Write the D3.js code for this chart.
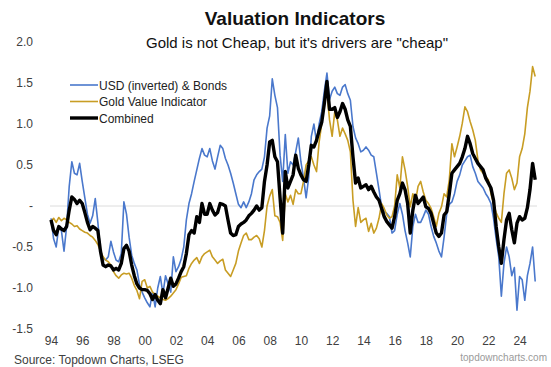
<!DOCTYPE html>
<html>
<head>
<meta charset="utf-8">
<script src="https://cdn.jsdelivr.net/npm/d3@7"></script>
<style>
  html, body { margin: 0; padding: 0; background: #fff; }
  svg { display: block; font-family: "Liberation Sans", Arial, sans-serif; }
</style>
</head>
<body>
<svg id="chart" width="551" height="367"></svg>
<script>
// Bi-monthly observations, six per year from Jan 1994 to Jan 2025
const startYear = 1994;
const perYear = 6;

const usdBonds = [
  -0.15, -0.4, -0.5, -0.25, -0.3, -0.55,
  -0.25, 0.24, 0.54, 0.4, 0.38, 0.52,
  0.3, 0.1, -0.1, -0.21, -0.12, 0.09,
  -0.2, -0.55, -0.64, -0.66, -0.62, -0.43,
  -0.56, -0.66, -0.68, -0.58, 0.05, -0.1,
  -0.38, -0.6, -0.7, -0.78, -0.96, -1.05,
  -1.12, -1.18, -1.23, -1.05, -1.23, -1.0,
  -0.86, -1.07, -0.85, -0.95, -1.05, -0.62,
  -0.8, -0.74, -0.65, -0.5, -0.17, 0.03,
  0.15, 0.3, 0.44, 0.58, 0.7, 0.62,
  0.6, 0.7, 0.55, 0.45, 0.6, 0.74,
  0.7, 0.58, 0.5, 0.4, 0.28, 0.15,
  0.02, -0.02, 0.05, -0.02, 0.05, 0.15,
  0.32, 0.38, 0.42, 0.45, 0.6, 0.95,
  1.1, 1.55, 1.35, 1.2, 0.62, 0.3,
  0.87, 0.4, 0.54, 0.5, 0.66, 0.83,
  0.54, 0.34, 0.1, 0.35, 0.85, 1.0,
  0.78, 1.0, 1.15, 1.4, 1.62, 1.3,
  1.4, 1.45, 1.37, 1.35, 1.45, 1.48,
  1.37, 1.29, 0.97, 0.83, 0.76, 0.66,
  0.68, 0.72, 0.68, 0.62, 0.6, 0.4,
  0.2, -0.01, -0.07, -0.09, -0.13, -0.33,
  -0.3, -0.1, 0.03, -0.1, -0.3, -0.45,
  -0.62, -0.25, -0.1, -0.2, -0.2, -0.13,
  -0.05, -0.1, -0.25, -0.37, -0.45, -0.55,
  -0.62, -0.38, -0.1, 0.02, 0.05, 0.15,
  0.3, 0.38, 0.5, 0.55, 0.6, 0.62,
  0.48, 0.4, 0.3, 0.26, 0.22, 0.15,
  0.1, 0.03, -0.15, -0.4, -0.62, -1.1,
  -0.7, -0.5, -0.62, -0.85, -0.75, -1.27,
  -0.86, -0.9, -1.15, -0.85, -0.7, -0.5,
  -0.92
];

const goldValue = [
  -0.19, -0.15, -0.2, -0.14, -0.18, -0.15,
  -0.17, -0.2, -0.22, -0.25, -0.24, -0.28,
  -0.3, -0.32, -0.33, -0.36, -0.38, -0.42,
  -0.47, -0.55, -0.62, -0.66, -0.68, -0.72,
  -0.8, -0.85, -0.88, -0.84, -0.82, -0.83,
  -0.82, -0.88, -0.97, -1.03, -1.13, -0.92,
  -0.9, -1.0, -0.98, -1.05, -1.08, -1.1,
  -1.12, -1.14, -1.15, -1.13, -1.1, -1.06,
  -1.02, -0.95, -0.87, -0.86, -0.85, -0.76,
  -0.7, -0.66, -0.63, -0.7, -0.62, -0.58,
  -0.56, -0.54, -0.62, -0.66, -0.7, -0.67,
  -0.65, -0.78, -0.82, -0.86, -0.78, -0.7,
  -0.55, -0.45, -0.36, -0.33, -0.41, -0.41,
  -0.38, -0.36, -0.4, -0.5, -0.3, 0.0,
  0.12, 0.2, -0.12, -0.13, -0.2, -0.42,
  0.15, 0.05, 0.13, 0.02, 0.2, 0.15,
  0.15, 0.3, 0.5, 0.55, 0.6, 0.5,
  0.42, 0.78, 1.0, 1.28, 1.38, 1.05,
  0.85, 1.15, 1.05, 0.85, 0.95, 0.88,
  0.8, 0.66, 0.07, -0.25, -0.02, -0.2,
  -0.17, -0.15, -0.31, -0.21, -0.33, -0.27,
  -0.15, 0.03, -0.03, -0.11, -0.15, -0.13,
  0.0, 0.38, 0.22, 0.6, 0.44, 0.24,
  -0.01, 0.15, 0.05, 0.24, 0.3, 0.17,
  0.07, 0.03, -0.03, -0.13, -0.25, -0.09,
  -0.01, 0.15, 0.11, 0.32, 0.76, 0.6,
  0.72, 0.85, 1.01, 1.21, 1.15, 1.03,
  0.93, 0.8, 0.56, 0.44, 0.4, 0.36,
  0.32, 0.15, 0.03, -0.08, -0.15, -0.2,
  0.15, 0.4, 0.44, 0.34, 0.2, 0.28,
  0.6, 0.7, 0.88, 1.2, 1.4, 1.7,
  1.58
];

const combined = [
  -0.17, -0.3, -0.35, -0.25, -0.28, -0.3,
  -0.25, -0.05, 0.11, 0.08, 0.03, 0.07,
  0.03, -0.08, -0.2, -0.29, -0.25, -0.27,
  -0.3, -0.55, -0.72, -0.74, -0.72, -0.73,
  -0.78, -0.76, -0.78, -0.7, -0.52, -0.48,
  -0.55, -0.72, -0.85, -0.95, -1.0, -1.02,
  -1.02, -1.03, -1.07, -1.14, -1.08, -1.15,
  -1.19, -1.02, -1.12, -1.0, -0.88, -0.98,
  -0.95, -0.88, -0.8, -0.74, -0.58, -0.35,
  -0.3, -0.33, -0.13, -0.2, 0.03, -0.1,
  -0.1, 0.03, -0.05, -0.11, -0.08, 0.03,
  0.02, 0.0, -0.17, -0.33, -0.36, -0.35,
  -0.25, -0.22, -0.2, -0.17, -0.12, -0.09,
  -0.05, 0.0, -0.05, -0.02, 0.3, 0.5,
  0.78, 0.8, 0.6, 0.54, 0.1, -0.33,
  0.42, 0.22, 0.3, 0.38, 0.62, 0.46,
  0.38, 0.32, 0.3, 0.5, 0.74, 0.72,
  0.8, 0.92, 1.02, 1.25, 1.52, 1.18,
  1.18, 1.2, 1.08, 1.15, 1.25, 1.18,
  1.05, 0.97, 0.6, 0.28, 0.34, 0.22,
  0.24, 0.26, 0.2, 0.24, 0.17, 0.11,
  0.07, -0.03, -0.13, -0.19, -0.23, -0.27,
  -0.13, 0.07, 0.15, 0.28, 0.2, 0.03,
  -0.33, -0.05, 0.13, 0.03, 0.07, 0.11,
  -0.01, -0.03, -0.09, -0.21, -0.33, -0.37,
  -0.33, -0.11, -0.07, 0.15, 0.4, 0.44,
  0.48, 0.52, 0.6, 0.7, 0.85, 0.76,
  0.64, 0.58, 0.52, 0.48, 0.44, 0.34,
  0.28, 0.22, 0.07, -0.25, -0.5, -0.7,
  -0.41, -0.17, -0.09, -0.29, -0.45, -0.21,
  -0.13, -0.17, -0.15, -0.02, 0.2, 0.52,
  0.32
];

const xTickYears = [1994, 1996, 1998, 2000, 2002, 2004, 2006, 2008, 2010, 2012, 2014, 2016, 2018, 2020, 2022, 2024];
const yTickValues = [2.0, 1.5, 1.0, 0.5, 0, -0.5, -1.0, -1.5];

const seriesNames = ["USD (inverted) & Bonds", "Gold Value Indicator", "Combined"];
const seriesColors = ["#4a78cc", "#c89d24", "#000000"];
const seriesWidths = [1.6, 1.6, 3.4];

const dates = usdBonds.map((_, i) => startYear + i / perYear);

const svg = d3.select("#chart");

const x = d3.scaleLinear().domain([1994, 2025]).range([51, 535.2]);
const y = d3.scaleLinear().domain([-1.5, 2.0]).range([329, 42]);

// Titles
svg.append("text")
  .attr("x", 295).attr("y", 25)
  .attr("text-anchor", "middle")
  .attr("font-size", 19).attr("font-weight", "bold")
  .attr("fill", "#111")
  .text("Valuation Indicators");

svg.append("text")
  .attr("x", 297).attr("y", 48)
  .attr("text-anchor", "middle")
  .attr("font-size", 15)
  .attr("fill", "#111")
  .text('Gold is not Cheap, but it\'s drivers are "cheap"');

// Zero reference line
svg.append("line")
  .attr("x1", 50).attr("x2", 537)
  .attr("y1", y(0)).attr("y2", y(0))
  .attr("stroke", "#dcdcdc").attr("stroke-width", 1);

// Y axis (labels only)
const yAxis = d3.axisLeft(y)
  .tickValues(yTickValues)
  .tickSize(0)
  .tickPadding(0)
  .tickFormat(d => d === 0 ? "-" : d3.format(".1f")(d).replace("−", "-"));

const gy = svg.append("g")
  .attr("transform", "translate(33,0)")
  .call(yAxis);
gy.select(".domain").remove();
gy.selectAll("text")
  .attr("font-size", 12)
  .attr("font-family", "Liberation Sans, Arial, sans-serif")
  .attr("fill", "#404040");

// X axis (labels only)
const xAxis = d3.axisBottom(x)
  .tickValues(xTickYears)
  .tickSize(0)
  .tickPadding(0)
  .tickFormat(d => String(d % 100).padStart(2, "0"));

const gx = svg.append("g")
  .attr("transform", "translate(0,336)")
  .call(xAxis);
gx.select(".domain").remove();
gx.selectAll("text")
  .attr("font-size", 12)
  .attr("font-family", "Liberation Sans, Arial, sans-serif")
  .attr("fill", "#404040");

// Series lines
const line = d3.line()
  .x((d, i) => x(dates[i]))
  .y(d => y(d));

[usdBonds, goldValue, combined].forEach((vals, k) => {
  svg.append("path")
    .datum(vals)
    .attr("fill", "none")
    .attr("stroke", seriesColors[k])
    .attr("stroke-width", seriesWidths[k])
    .attr("stroke-linejoin", "round")
    .attr("d", line);
});

// Legend
const legend = svg.append("g");
seriesNames.forEach((name, k) => {
  const ly = 85 + k * 16.5;
  legend.append("line")
    .attr("x1", 70).attr("x2", 98)
    .attr("y1", ly).attr("y2", ly)
    .attr("stroke", seriesColors[k])
    .attr("stroke-width", seriesWidths[k]);
  legend.append("text")
    .attr("x", 99).attr("y", ly + 4.5)
    .attr("font-size", 12)
    .attr("fill", "#222")
    .text(name);
});

// Footer
svg.append("text")
  .attr("x", 14).attr("y", 364)
  .attr("font-size", 12)
  .attr("fill", "#404040")
  .text("Source: Topdown Charts, LSEG");

svg.append("text")
  .attr("x", 547).attr("y", 361)
  .attr("text-anchor", "end")
  .attr("font-size", 10)
  .attr("fill", "#9a9a9a")
  .text("topdowncharts.com");
</script>
</body>
</html>
